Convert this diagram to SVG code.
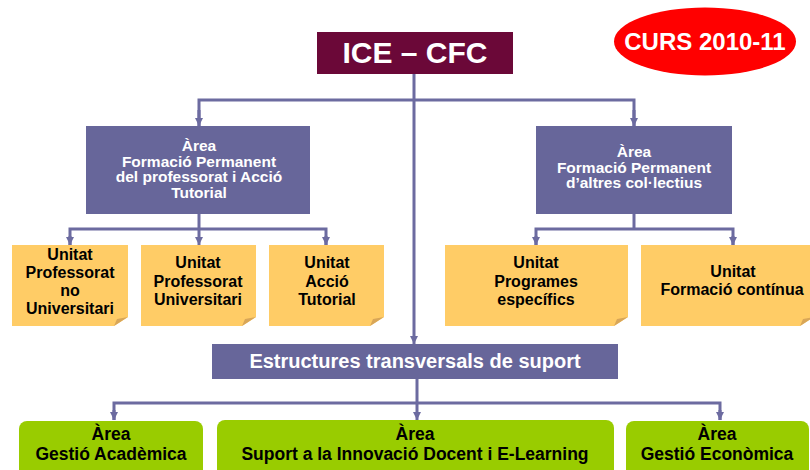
<svg xmlns="http://www.w3.org/2000/svg" width="810" height="470" viewBox="0 0 810 470">
<style>
text{font-family:"Liberation Sans",Arial,sans-serif;font-weight:bold;text-anchor:middle}
.w{fill:#ffffff}
.k{fill:#000000}
.area{fill:#67669A}
.unit{fill:#FFCC66}
.fold{fill:#D8A658}
.green{fill:#99CC00}
.conn{fill:none;stroke:#6C6BA0;stroke-width:3}
.a16{font-size:15.5px}
.u16{font-size:16px}
.g18{font-size:17.5px}
</style>
<defs>
<marker id="arr" viewBox="0 0 10 10" refX="10" refY="5" markerWidth="8" markerHeight="8" markerUnits="userSpaceOnUse" orient="auto">
<path d="M0,0 L10,5 L0,10 z" fill="#6C6BA0"/>
</marker>
</defs>
<rect width="810" height="470" fill="#ffffff"/>

<g id="connectors">
<path class="conn" d="M414,74 V344" marker-end="url(#arr)"/>
<path class="conn" d="M199,126 V100 H634 V126" />
<path class="conn" d="M199,110 V126" marker-end="url(#arr)"/>
<path class="conn" d="M634,110 V126" marker-end="url(#arr)"/>
<path class="conn" d="M199,214 V229"/>
<path class="conn" d="M70,245 V229 H326 V245"/>
<path class="conn" d="M70,236 V245" marker-end="url(#arr)"/>
<path class="conn" d="M199,229 V245" marker-end="url(#arr)"/>
<path class="conn" d="M326,236 V245" marker-end="url(#arr)"/>
<path class="conn" d="M634,214 V229"/>
<path class="conn" d="M536,245 V229 H733 V245"/>
<path class="conn" d="M536,236 V245" marker-end="url(#arr)"/>
<path class="conn" d="M733,236 V245" marker-end="url(#arr)"/>
<path class="conn" d="M417,379 V420" marker-end="url(#arr)"/>
<path class="conn" d="M114,420 V403 H720 V420"/>
<path class="conn" d="M114,410 V420" marker-end="url(#arr)"/>
<path class="conn" d="M720,410 V420" marker-end="url(#arr)"/>
</g>

<g id="ice-cfc">
<rect x="317" y="32" width="196" height="42" fill="#6B0838"/>
<text x="415" y="63" class="w" font-size="30px">ICE – CFC</text>
</g>

<g id="curs">
<ellipse cx="705" cy="41.5" rx="91" ry="34" fill="#FF0000"/>
<text x="705" y="50" class="w" font-size="24px">CURS 2010-11</text>
</g>

<g id="area-fp-professorat">
<rect x="86" y="126" width="224" height="88" class="area"/>
<text class="w a16" x="199" y="151">Àrea</text>
<text class="w a16" x="199" y="166.5">Formació Permanent</text>
<text class="w a16" x="199" y="182">del professorat i Acció</text>
<text class="w a16" x="199" y="197.5">Tutorial</text>
</g>

<g id="area-fp-altres">
<rect x="536" y="126" width="196" height="88" class="area"/>
<text class="w a16" x="634" y="157">Àrea</text>
<text class="w a16" x="634" y="172.5">Formació Permanent</text>
<text class="w a16" x="634" y="188">d’altres col·lectius</text>
</g>

<g id="unitat-no-univ">
<path class="unit" d="M12,245 H128 V317 L114,326 H12 Z"/>
<path class="fold" d="M114,326 L128,317 L117,319 Z"/>
<text class="k u16" x="70" y="260">Unitat</text>
<text class="k u16" x="70" y="278">Professorat</text>
<text class="k u16" x="70" y="296">no</text>
<text class="k u16" x="70" y="314">Universitari</text>
</g>

<g id="unitat-univ">
<path class="unit" d="M141,245 H256 V317 L242,326 H141 Z"/>
<path class="fold" d="M242,326 L256,317 L245,319 Z"/>
<text class="k u16" x="198" y="268">Unitat</text>
<text class="k u16" x="198" y="286.5">Professorat</text>
<text class="k u16" x="198" y="305">Universitari</text>
</g>

<g id="unitat-tutorial">
<path class="unit" d="M269,245 H384 V317 L370,326 H269 Z"/>
<path class="fold" d="M370,326 L384,317 L373,319 Z"/>
<text class="k u16" x="327" y="268">Unitat</text>
<text class="k u16" x="327" y="286.5">Acció</text>
<text class="k u16" x="327" y="305">Tutorial</text>
</g>

<g id="unitat-programes">
<path class="unit" d="M445,245 H628 V317 L614,326 H445 Z"/>
<path class="fold" d="M614,326 L628,317 L617,319 Z"/>
<text class="k u16" x="536" y="268">Unitat</text>
<text class="k u16" x="536" y="286.5">Programes</text>
<text class="k u16" x="536" y="305">específics</text>
</g>

<g id="unitat-continua">
<path class="unit" d="M641,245 H814 V317 L800,326 H641 Z"/>
<path class="fold" d="M800,326 L814,317 L803,319 Z"/>
<text class="k u16" x="733" y="277">Unitat</text>
<text class="k u16" x="732" y="295">Formació contínua</text>
</g>

<g id="estructures">
<rect x="212" y="344" width="406" height="35" class="area"/>
<text class="w" x="415" y="368" font-size="20px">Estructures transversals de suport</text>
</g>

<g id="gestio-academica">
<rect x="19" y="421" width="184" height="60" rx="8" class="green"/>
<text class="k g18" x="111" y="440">Àrea</text>
<text class="k g18" x="111" y="459.5">Gestió Acadèmica</text>
</g>

<g id="suport-innovacio">
<rect x="217" y="420" width="397" height="61" rx="8" class="green"/>
<text class="k g18" x="415" y="440">Àrea</text>
<text class="k g18" x="415" y="459.5">Suport a la Innovació Docent i E-Learning</text>
</g>

<g id="gestio-economica">
<rect x="626" y="421" width="183" height="60" rx="8" class="green"/>
<text class="k g18" x="717" y="440">Àrea</text>
<text class="k g18" x="717" y="459.5">Gestió Econòmica</text>
</g>
</svg>
